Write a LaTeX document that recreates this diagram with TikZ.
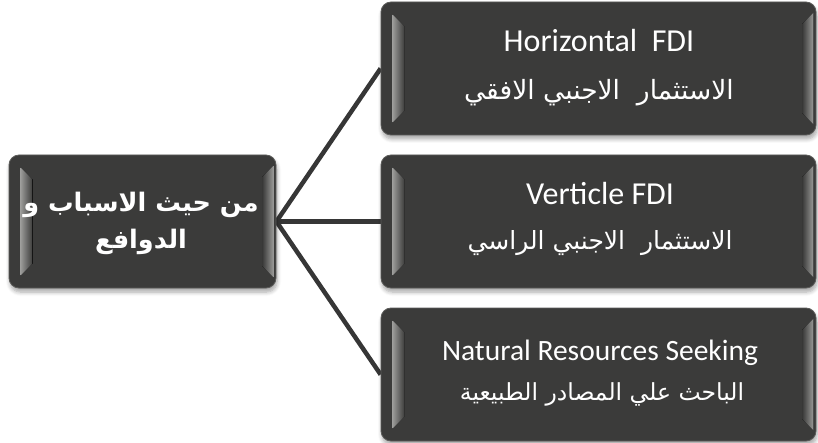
\documentclass[tikz,border=0pt]{standalone}
\usepackage{fontspec}
\setmainfont{Carlito}
\newfontfamily\arabicfont[Script=Arabic]{DejaVu Sans}
\TeXXeTstate=1
\usetikzlibrary{calc,shadows.blur}
\pgfdeclarelayer{background}
\pgfsetlayers{background,main}

\definecolor{boxfill}{HTML}{3B3B3A}
\definecolor{boxedge}{HTML}{5C5C5A}
\definecolor{linkgray}{HTML}{363636}
\definecolor{bevellight}{HTML}{9A9A98}

\tikzset{
  card/.style={rectangle, rounded corners=10pt, fill=boxfill, draw=boxedge,
    line width=0.8pt, inner sep=0pt,
    blur shadow={shadow xshift=1pt, shadow yshift=-4pt, shadow blur steps=6,
      shadow blur radius=4pt, shadow opacity=35}},
  wide/.style={card, minimum width=435pt, minimum height=133pt},
  link/.style={draw=linkgray, line width=4.5pt},
  entext/.style={anchor=base, text=white, inner sep=0pt,
    font=\fontsize{32}{34}\selectfont},
  artext/.style={anchor=base, text=white, inner sep=0pt,
    font=\arabicfont\fontsize{25}{30}\selectfont},
  headtext/.style={anchor=base, text=white, inner sep=0pt,
    font=\arabicfont\bfseries\fontsize{25.5}{30}\selectfont},
}

% light bevel strips on the left and right inner edges of a card
\newcommand\cardbevel[1]{%
  \fill[left color=bevellight, right color=boxfill]
    ($(#1.north west)+(12,13)$) -- ($(#1.north west)+(24,25)$) --
    ($(#1.south west)+(24,-25)$) -- ($(#1.south west)+(12,-13)$) -- cycle;
  \fill[left color=boxfill, right color=bevellight]
    ($(#1.north east)+(-14,22)$) -- ($(#1.north east)+(-3,11)$) --
    ($(#1.south east)+(-3,-11)$) -- ($(#1.south east)+(-14,-22)$) -- cycle;
}

\begin{document}
\begin{tikzpicture}[x=1pt, y=-1pt]
  \useasboundingbox (0,0) rectangle (818,443);

  % cards
  \node[card, minimum width=267pt, minimum height=133pt] (L) at (142.5,221.5) {};
  \node[wide] (T) at (598.5,68.5) {};
  \node[wide] (M) at (598.5,221.5) {};
  \node[wide] (B) at (598.5,374.5) {};
  \cardbevel{L}
  \cardbevel{T}
  \cardbevel{M}
  \cardbevel{B}

  % connectors
  \begin{pgfonlayer}{background}
    \draw[link] (L.east) -- (T.west);
    \draw[link] (L.east) -- (M.west);
    \draw[link] (L.east) -- (B.west);
  \end{pgfonlayer}

  % texts
  \node[headtext] (L1) at (141,212) {\beginR من حيث الاسباب و\endR};
  \node[headtext] (L2) at (141,249) {\beginR الدوافع\endR};

  \node[entext] (T1) at (599,52) {Horizontal\ \ FDI};
  \node[artext, font=\arabicfont\fontsize{26.5}{30}\selectfont] (T2) at (599,100)
    {\beginR الاستثمار\ \ الاجنبي الافقي\endR};

  \node[entext] (M1) at (600,205) {Verticle FDI};
  \node[artext] (M2) at (600,250) {\beginR الاستثمار\ \ الاجنبي الراسي\endR};

  \node[entext, font=\fontsize{29.5}{32}\selectfont] (B1) at (600,360) {Natural Resources Seeking};
  \node[artext, font=\arabicfont\fontsize{23.5}{28}\selectfont] (B2) at (602,400)
    {\beginR الباحث علي المصادر الطبيعية\endR};
\end{tikzpicture}
\end{document}
